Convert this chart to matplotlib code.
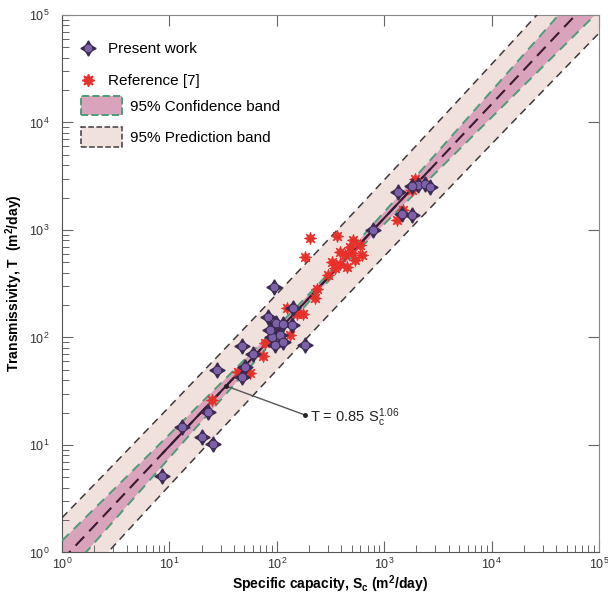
import numpy as np
import matplotlib
matplotlib.use("Agg")
import matplotlib.pyplot as plt
from matplotlib.lines import Line2D
from matplotlib.patches import Patch
from matplotlib.legend_handler import HandlerTuple

plt.rcParams["font.family"] = ["Liberation Sans", "DejaVu Sans"]
plt.rcParams["mathtext.default"] = "regular"

# present work: specific capacity (m2/day) and transmissivity (m2/day)
sc_present = [8.5, 13.0, 20.0, 25.6, 23.0, 27.6, 47.1, 60.4, 50.6, 47.1,
              89.7, 107, 96.2, 115, 94.2, 185, 83.4, 142, 98.4, 115,
              138, 86.4, 781, 1352, 2079, 2399, 2668, 1455, 1803, 1815]
t_present = [5.1, 14.8, 11.8, 10.2, 20.4, 49.7, 83.0, 70.0, 52.6, 43.0,
             100, 105, 84.8, 91, 295, 84.8, 155, 189, 136, 133,
             131, 117, 1009, 2255, 2606, 2661, 2512, 1420, 1370, 2560]

# reference [7]
sc_ref = [24.8, 43.8, 56.3, 74.9, 77.6, 133, 125, 154, 175, 227,
          235, 183, 202, 364, 388, 480, 498, 595, 535, 388,
          348, 448, 302, 1936, 1803, 1506, 1306, 432, 621, 327, 512]
t_ref = [26.1, 47.9, 46.3, 67.0, 88.0, 105, 186, 165, 166, 234,
         285, 557, 846, 883, 625, 695, 604, 721, 523, 487,
         438, 453, 379, 3006, 2339, 1525, 1230, 582, 582, 501, 802]

# power-law fit T = a * Sc^b and band half-widths (log10 units)
fit_a = 0.85
fit_b = 1.06
conf_min = 0.035
conf_slope = 0.0736
conf_center = 2.4
pred_sigma = 0.35

label_sc = 33.7

fig = plt.figure(figsize=(6.08, 5.96), dpi=100)
ax = fig.add_axes([0.102, 0.073, 0.883, 0.902])

lx = np.linspace(0, 5, 400)
sc_grid = 10 ** lx
mid = np.log10(fit_a) + fit_b * lx
conf = np.sqrt(conf_min ** 2 + conf_slope ** 2 * (lx - conf_center) ** 2)
pred = np.sqrt(pred_sigma ** 2 + conf ** 2)

pink_light = "#f1e1dc"
pink = "#d9a3bb"
green = "#4f9c78"
edge_dark = "#3f3a3a"
purple = "#7d61a8"
purple_dark = "#3b2a52"
red = "#e8302a"

ax.fill_between(sc_grid, 10 ** (mid - pred), 10 ** (mid + pred), color=pink_light, lw=0, zorder=1)
ax.fill_between(sc_grid, 10 ** (mid - conf), 10 ** (mid + conf), color=pink, lw=0, zorder=2)
for sgn in (-1, 1):
    ax.plot(sc_grid, 10 ** (mid + sgn * pred), color=edge_dark, lw=1.1, ls=(0, (5, 3.5)), zorder=3)
    ax.plot(sc_grid, 10 ** (mid + sgn * conf), color=green, lw=1.4, ls=(0, (5, 3.5)), zorder=3)

# fit line: dashed overall, solid over the range of the data
ax.plot(sc_grid, 10 ** mid, color="#3a1a30", lw=1.5, ls=(0, (6, 3.5)), zorder=4)
sc_all = np.array(sc_present + sc_ref)
inner = (sc_grid >= sc_all.min()) & (sc_grid <= sc_all.max())
ax.plot(sc_grid[inner], 10 ** mid[inner], color="#3a1a30", lw=1.5, zorder=4)

# data
ax.plot(sc_ref, t_ref, ls="none", marker=(8, 1, 0), ms=9, color=red,
        mec=red, mew=0.5, zorder=5)
ax.plot(sc_present, t_present, ls="none", marker=(4, 1, 0), ms=11, color=purple_dark, zorder=6)
ax.plot(sc_present, t_present, ls="none", marker="o", ms=6.2, mfc=purple,
        mec=purple_dark, mew=0.7, zorder=7)

# equation label with leader line
t_label = fit_a * label_sc ** fit_b
ax.plot([label_sc, 183], [t_label, 19.0], color="#555555", lw=1.0, zorder=8)
ax.plot([label_sc, 183], [t_label, 19.0], ls="none", marker="o", ms=2.5, color="#222222", zorder=8)
ax.text(205, 18.0, r"T = 0.85 S$_c^{1.06}$", fontsize=10.5, ha="left", va="center", color="#222222")

ax.set_xscale("log")
ax.set_yscale("log")
ax.set_xlim(1, 1e5)
ax.set_ylim(1, 1e5)

ax.set_xlabel(r"Specific capacity, S$_c$ (m$^2$/day)", fontsize=10, fontweight="bold", labelpad=1)
ax.set_ylabel(r"Transmissivity, T  (m$^2$/day)", fontsize=10, fontweight="bold", labelpad=3)

ax.tick_params(which="major", direction="in", length=8, width=0.8, color="#666666",
               top=True, right=True, labelsize=9, labelcolor="#333333")
ax.tick_params(axis="x", which="major", pad=3)
ax.tick_params(axis="y", which="major", pad=9)
ax.tick_params(which="minor", direction="in", length=5, width=0.7, color="#666666",
               top=False, right=False)
ax.xaxis.set_minor_locator(matplotlib.ticker.LogLocator(base=10, subs=np.arange(2, 10), numticks=20))
ax.yaxis.set_minor_locator(matplotlib.ticker.LogLocator(base=10, subs=np.arange(2, 10), numticks=20))
ax.xaxis.set_minor_formatter(matplotlib.ticker.NullFormatter())
ax.yaxis.set_minor_formatter(matplotlib.ticker.NullFormatter())
for side in ("left", "bottom"):
    ax.spines[side].set_color("#555555")
for side in ("top", "right"):
    ax.spines[side].set_color("#888888")

# legends: markers and bands separately
h_present = (Line2D([], [], ls="none", marker=(4, 1, 0), ms=11, color=purple_dark),
             Line2D([], [], ls="none", marker="o", ms=6.2, mfc=purple, mec=purple_dark, mew=0.7))
h_ref = Line2D([], [], ls="none", marker=(8, 1, 0), ms=9, color=red)
leg1 = ax.legend([h_present, h_ref], ["Present work", "Reference [7]"],
                 handler_map={tuple: HandlerTuple(ndivide=1)},
                 loc="upper left", bbox_to_anchor=(0.0, 0.975), frameon=False,
                 fontsize=11, handlelength=1.6, handletextpad=0.5, labelspacing=1.2)
ax.add_artist(leg1)

h_conf = Patch(facecolor=pink, edgecolor=green, ls="--", lw=1.4)
h_pred = Patch(facecolor=pink_light, edgecolor=edge_dark, ls="--", lw=1.1)
ax.legend([h_conf, h_pred], ["95% Confidence band", "95% Prediction band"],
          loc="upper left", bbox_to_anchor=(0.01, 0.875), frameon=False,
          fontsize=11, handlelength=2.7, handleheight=1.6, handletextpad=0.5, labelspacing=0.75)

fig.savefig("out.png", dpi=100)
